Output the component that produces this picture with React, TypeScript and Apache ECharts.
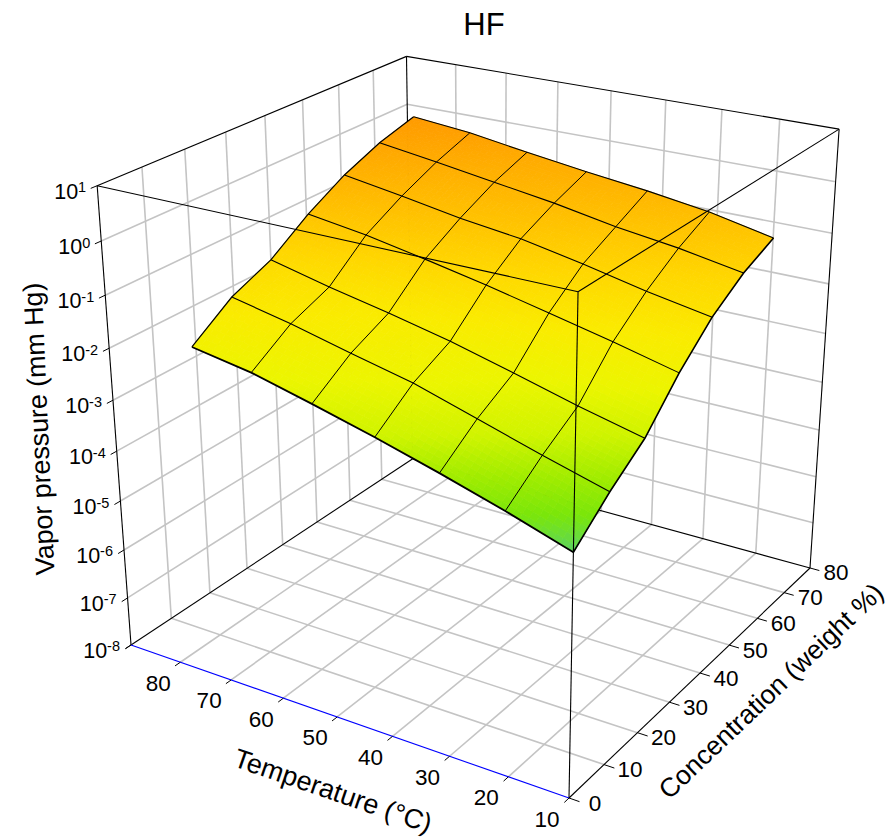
import React, { useEffect, useRef } from "react";
import * as echarts from "echarts";

// ---- data ----
const temperatureTicks = [10, 20, 30, 40, 50, 60, 70, 80];
const concentrationTicks = [0, 10, 20, 30, 40, 50, 60, 70, 80];
const pressureExponents = [1, 0, -1, -2, -3, -4, -5, -6, -7, -8];

const surfaceTemperatures = [10, 20.7, 31.3, 42, 52.7, 63.3, 74];
const surfaceConcentrations = [0, 9.7, 19.4, 29.1, 38.8, 48.5, 58.2];
// log10(vapor pressure), one list per concentration, ordered by temperature
const logP_c0 = [-3.4, -3.01, -2.66, -2.33, -2.03, -1.75, -1.56];
const logP_c1 = [-2.82, -2.49, -2.14, -1.79, -1.53, -1.26, -1.03];
const logP_c2 = [-2.33, -2.05, -1.74, -1.44, -1.19, -0.965, -0.71];
const logP_c3 = [-1.59, -1.31, -1.05, -0.8, -0.57, -0.36, -0.2];
const logP_c4 = [-0.99, -0.78, -0.53, -0.31, -0.16, 0.03, 0.21];
const logP_c5 = [-0.57, -0.36, -0.2, 0.01, 0.18, 0.35, 0.51];
const logP_c6 = [-0.29, -0.04, 0.13, 0.27, 0.43, 0.6, 0.71];
const logPRows = [logP_c0, logP_c1, logP_c2, logP_c3, logP_c4, logP_c5, logP_c6];

// ---- axis ranges ----
const T_MIN = 10, T_MAX = 90;
const C_MIN = 0, C_MAX = 80;
const Z_MIN = -8, Z_MAX = 1;

// ---- styles ----
const FONT = '"Liberation Sans", Arial, sans-serif';
const GRID = "#c4c4c4";
const colorStops: [number, number[]][] = [
  [-3.4, [90, 208, 100]],
  [-3.22, [108, 222, 50]],
  [-3.05, [122, 230, 10]],
  [-2.7, [160, 236, 0]],
  [-2.3, [208, 244, 0]],
  [-1.8, [236, 245, 0]],
  [-1.2, [250, 235, 0]],
  [-0.6, [255, 214, 0]],
  [0, [255, 187, 0]],
  [0.4, [255, 170, 0]],
  [0.75, [255, 152, 0]],
];

function colorOf(z: number) {
  if (z <= colorStops[0][0]) return `rgb(${colorStops[0][1].join(",")})`;
  for (let k = 1; k < colorStops.length; k++) {
    if (z <= colorStops[k][0]) {
      const [z0, c0] = colorStops[k - 1];
      const [z1, c1] = colorStops[k];
      const t = (z - z0) / (z1 - z0);
      return `rgb(${c0.map((c, n) => Math.round(c + (c1[n] - c) * t)).join(",")})`;
    }
  }
  return `rgb(${colorStops[colorStops.length - 1][1].join(",")})`;
}

// perspective camera of the 3D box (unit-cube to page)
function cube(u: number, v: number, w: number): number[] {
  const X = 569 - 421.6 * u + 394.9 * v - 47.6 * w;
  const Y = 798 - 72.4 * u - 122.1 * v - 534.9 * w;
  const W = 1 + 0.125 * u + 0.19 * v - 0.098 * w;
  return [X / W, Y / W];
}
const uOf = (t: number) => (t - T_MIN) / (T_MAX - T_MIN);
const vOf = (c: number) => (c - C_MIN) / (C_MAX - C_MIN);
const wOf = (z: number) => (z - Z_MIN) / (Z_MAX - Z_MIN);
const project = (t: number, c: number, z: number) => cube(uOf(t), vOf(c), wOf(z));

type Seg = { a: number[]; b: number[]; color: string; width: number };

function seg(a: number[], b: number[], color: string, width: number): Seg {
  return { a: project(a[0], a[1], a[2]), b: project(b[0], b[1], b[2]), color, width };
}

function buildBack(): Seg[] {
  const out: Seg[] = [];
  for (const t of temperatureTicks.slice(1)) {
    out.push(seg([t, C_MIN, Z_MIN], [t, C_MAX, Z_MIN], GRID, 1.6));
    out.push(seg([t, C_MAX, Z_MIN], [t, C_MAX, Z_MAX], GRID, 1.6));
  }
  for (const c of concentrationTicks.slice(1, -1)) {
    out.push(seg([T_MIN, c, Z_MIN], [T_MAX, c, Z_MIN], GRID, 1.6));
    out.push(seg([T_MAX, c, Z_MIN], [T_MAX, c, Z_MAX], GRID, 1.6));
  }
  for (const e of pressureExponents.slice(1, -1)) {
    out.push(seg([T_MAX, C_MIN, e], [T_MAX, C_MAX, e], GRID, 1.6));
    out.push(seg([T_MAX, C_MAX, e], [T_MIN, C_MAX, e], GRID, 1.6));
  }
  const k = "#000";
  out.push(seg([T_MAX, C_MIN, Z_MIN], [T_MAX, C_MAX, Z_MIN], k, 1.1));
  out.push(seg([T_MAX, C_MAX, Z_MIN], [T_MIN, C_MAX, Z_MIN], k, 1.1));
  out.push(seg([T_MAX, C_MAX, Z_MIN], [T_MAX, C_MAX, Z_MAX], k, 1.1));
  out.push(seg([T_MAX, C_MIN, Z_MAX], [T_MAX, C_MAX, Z_MAX], k, 1.1));
  out.push(seg([T_MAX, C_MAX, Z_MAX], [T_MIN, C_MAX, Z_MAX], k, 1.1));
  out.push(seg([T_MIN, C_MAX, Z_MAX], [T_MIN, C_MAX, Z_MIN], k, 1.1));
  return out;
}

function buildFront(): Seg[] {
  const k = "#000";
  const out: Seg[] = [];
  out.push(seg([T_MAX, C_MIN, Z_MAX], [T_MIN, C_MIN, Z_MAX], k, 1.1));
  out.push(seg([T_MIN, C_MIN, Z_MAX], [T_MIN, C_MAX, Z_MAX], k, 1.1));
  out.push(seg([T_MIN, C_MIN, Z_MAX], [T_MIN, C_MIN, Z_MIN], k, 1.1));
  out.push(seg([T_MAX, C_MIN, Z_MIN], [T_MAX, C_MIN, Z_MAX], k, 1.1));
  out.push(seg([T_MIN, C_MIN, Z_MIN], [T_MIN, C_MAX, Z_MIN], k, 1.1));
  out.push(seg([T_MIN, C_MIN, Z_MIN], [T_MAX, C_MIN, Z_MIN], "#0000ff", 1.1));
  for (const t of [...temperatureTicks, T_MAX]) {
    out.push(seg([t, C_MIN, Z_MIN], [t, C_MIN - 1.3, Z_MIN], k, 1));
  }
  for (const c of concentrationTicks) {
    out.push(seg([T_MIN, c, Z_MIN], [T_MIN - 1.7, c, Z_MIN], k, 1));
  }
  for (const e of pressureExponents) {
    out.push(seg([T_MAX, C_MIN, e], [T_MAX, C_MIN - 1.4, e], k, 1));
  }
  return out;
}

const SUB = 10;
function surfacePoint(i: number, j: number, s: number, r: number) {
  const t = surfaceTemperatures[i] + (surfaceTemperatures[i + 1] - surfaceTemperatures[i]) * s;
  const c = surfaceConcentrations[j] + (surfaceConcentrations[j + 1] - surfaceConcentrations[j]) * r;
  const z =
    logPRows[j][i] * (1 - s) * (1 - r) +
    logPRows[j][i + 1] * s * (1 - r) +
    logPRows[j + 1][i] * (1 - s) * r +
    logPRows[j + 1][i + 1] * s * r;
  return { p: project(t, c, z), z };
}

function meshCells() {
  const cells: number[][] = [];
  for (let j = 0; j < surfaceConcentrations.length - 1; j++) {
    for (let i = 0; i < surfaceTemperatures.length - 1; i++) cells.push([i, j]);
  }
  return cells;
}

function meshLines() {
  const lines: { pts: number[][]; width: number }[] = [];
  const nT = surfaceTemperatures.length, nC = surfaceConcentrations.length;
  for (let j = 0; j < nC; j++) {
    lines.push({
      pts: surfaceTemperatures.map((t, i) => project(t, surfaceConcentrations[j], logPRows[j][i])),
      width: j === 0 ? 1.8 : 1.1,
    });
  }
  for (let i = 0; i < nT; i++) {
    lines.push({
      pts: surfaceConcentrations.map((c, j) => project(surfaceTemperatures[i], c, logPRows[j][i])),
      width: i === 0 ? 1.6 : i === nT - 1 ? 1.2 : 1,
    });
  }
  return lines;
}

function segSeries(name: string, list: Seg[]) {
  return {
    type: "custom",
    name,
    coordinateSystem: "none",
    silent: true,
    data: list.map((_, i) => i),
    renderItem: (params: any) => {
      const s = list[params.dataIndex];
      return {
        type: "line",
        shape: { x1: s.a[0], y1: s.a[1], x2: s.b[0], y2: s.b[1] },
        style: { stroke: s.color, lineWidth: s.width, fill: "none" },
      };
    },
  };
}

function labelText(text: string, p: number[], size = 22.5, extra: any = {}) {
  return {
    type: "text",
    x: p[0],
    y: p[1],
    silent: true,
    ...extra,
    style: {
      text,
      fontSize: size,
      fontFamily: FONT,
      fill: "#000",
      align: "center",
      verticalAlign: "middle",
      ...(extra.style || {}),
    },
  };
}

function buildOption() {
  const cells = meshCells();
  const lines = meshLines();
  const graphics: any[] = [];
  graphics.push(labelText("HF", [484, 24], 31));
  for (const t of temperatureTicks) {
    const p = project(t, C_MIN, Z_MIN);
    graphics.push(labelText(String(t), [p[0] - 22, p[1] + 21]));
  }
  for (const c of concentrationTicks) {
    const p = project(T_MIN, c, Z_MIN);
    graphics.push(labelText(String(c), [p[0] + 26, p[1] + 5]));
  }
  for (const e of pressureExponents) {
    const p = project(T_MAX, C_MIN, e);
    graphics.push({
      type: "text",
      x: p[0] - 11,
      y: p[1] + 6,
      silent: true,
      style: {
        text: `10{s|${e}}`,
        fontSize: 21.5,
        fontFamily: FONT,
        fill: "#000",
        align: "right",
        verticalAlign: "middle",
        rich: {
          s: { fontSize: 14.5, fontFamily: FONT, fill: "#000", verticalAlign: "top", lineHeight: 24 },
        },
      },
    });
  }
  graphics.push(
    labelText("Vapor pressure (mm Hg)", [39, 429], 26.8, { rotation: (92.5 * Math.PI) / 180 })
  );
  graphics.push(
    labelText("Temperature (°C)", [333, 791], 27, { rotation: (-19 * Math.PI) / 180 })
  );
  graphics.push(
    labelText("Concentration (weight %)", [771, 691], 26.6, { rotation: (43.6 * Math.PI) / 180 })
  );

  return {
    animation: false,
    graphic: graphics,
    series: [
      segSeries("back", buildBack()),
      {
        type: "custom",
        name: "surface",
        coordinateSystem: "none",
        silent: true,
        data: cells.map((_, i) => i),
        renderItem: (params: any) => {
          const [i, j] = cells[params.dataIndex];
          const children: any[] = [];
          for (let a = 0; a < SUB; a++) {
            for (let b = 0; b < SUB; b++) {
              const q = [
                surfacePoint(i, j, a / SUB, b / SUB),
                surfacePoint(i, j, (a + 1) / SUB, b / SUB),
                surfacePoint(i, j, (a + 1) / SUB, (b + 1) / SUB),
                surfacePoint(i, j, a / SUB, (b + 1) / SUB),
              ];
              const color = colorOf((q[0].z + q[1].z + q[2].z + q[3].z) / 4);
              children.push({
                type: "polygon",
                shape: { points: q.map((o) => o.p) },
                style: { fill: color, stroke: color, lineWidth: 0.8 },
              });
            }
          }
          return { type: "group", children };
        },
      },
      {
        type: "custom",
        name: "mesh",
        coordinateSystem: "none",
        silent: true,
        data: lines.map((_, i) => i),
        renderItem: (params: any) => {
          const l = lines[params.dataIndex];
          return {
            type: "polyline",
            shape: { points: l.pts },
            style: { stroke: "#000", lineWidth: l.width, fill: "none" },
          };
        },
      },
      segSeries("front", buildFront()),
    ],
  };
}

export default function App() {
  const ref = useRef<HTMLDivElement>(null);
  useEffect(() => {
    const chart = echarts.init(ref.current!, undefined, { renderer: "svg" });
    chart.setOption(buildOption() as any);
    return () => chart.dispose();
  }, []);
  return (
    <div
      ref={ref}
      style={{ position: "absolute", left: 0, top: 0, width: 888, height: 840, background: "#fff" }}
    />
  );
}
